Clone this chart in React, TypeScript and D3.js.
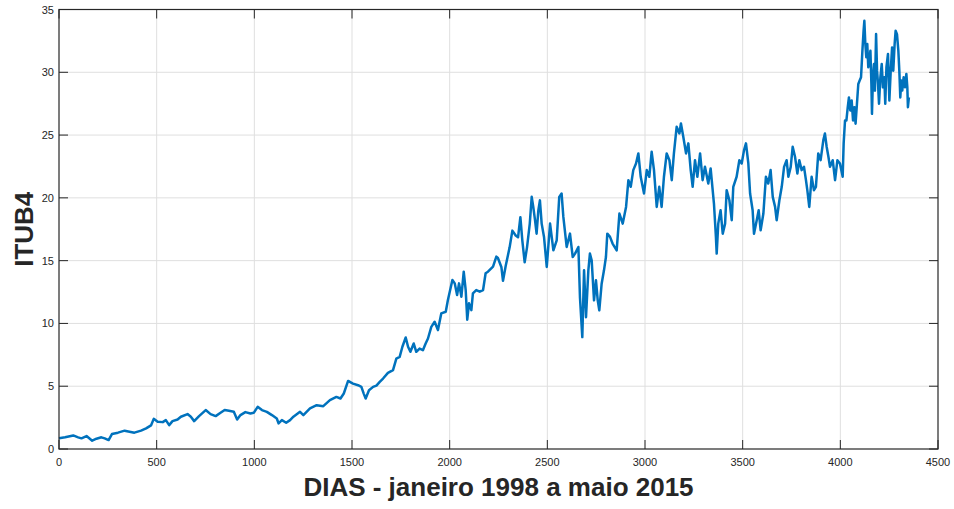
import React from "react";
import * as d3 from "d3";

const W = 954;
const H = 509;
const M = { left: 59, right: 16, top: 9.5, bottom: 60 };

const xTicks = [0, 500, 1000, 1500, 2000, 2500, 3000, 3500, 4000, 4500];
const yTicks = [0, 5, 10, 15, 20, 25, 30, 35];
const xLabel = "DIAS - janeiro 1998 a maio 2015";
const yLabel = "ITUB4";

// trading day index
const days = [
  0, 31, 73, 98, 115, 141, 170, 192, 217, 234, 254, 271, 302, 336, 386, 420, 446, 471, 485, 505,
  531, 547, 564, 581, 607, 624, 658, 675, 692, 717, 751, 776, 802, 827, 848, 870, 895, 912, 929, 954,
  980, 997, 1017, 1039, 1064, 1090, 1115, 1124, 1141, 1163, 1183, 1200, 1234, 1251, 1285, 1319, 1353, 1387, 1420, 1441,
  1458, 1480, 1505, 1531, 1548, 1560, 1570, 1587, 1608, 1625, 1642, 1659, 1684, 1710, 1727, 1744, 1758, 1775, 1787, 1799,
  1816, 1829, 1846, 1863, 1877, 1889, 1906, 1923, 1940, 1957, 1980, 1991, 2014, 2026, 2038, 2048, 2060, 2072, 2082, 2090,
  2099, 2111, 2119, 2136, 2154, 2171, 2184, 2196, 2222, 2239, 2247, 2265, 2273, 2287, 2307, 2321, 2338, 2350, 2362, 2372,
  2384, 2396, 2410, 2420, 2428, 2437, 2445, 2454, 2462, 2471, 2483, 2497, 2514, 2531, 2548, 2561, 2573, 2582, 2599, 2616,
  2630, 2642, 2659, 2667, 2679, 2688, 2698, 2710, 2718, 2727, 2739, 2749, 2758, 2766, 2778, 2790, 2800, 2807, 2821, 2834,
  2855, 2869, 2886, 2903, 2915, 2927, 2940, 2954, 2966, 2978, 2995, 3009, 3022, 3034, 3046, 3060, 3073, 3085, 3097, 3111,
  3125, 3137, 3148, 3162, 3176, 3184, 3196, 3210, 3222, 3234, 3244, 3256, 3268, 3282, 3295, 3307, 3324, 3336, 3353, 3363,
  3367, 3375, 3387, 3398, 3410, 3418, 3432, 3444, 3452, 3469, 3483, 3495, 3507, 3517, 3529, 3538, 3551, 3558, 3572, 3582,
  3592, 3606, 3619, 3631, 3643, 3654, 3666, 3674, 3688, 3700, 3712, 3725, 3734, 3746, 3756, 3768, 3780, 3790, 3802, 3814,
  3824, 3831, 3841, 3853, 3865, 3875, 3887, 3899, 3913, 3921, 3930, 3939, 3947, 3961, 3973, 3985, 3998, 4012, 4017, 4024,
  4031, 4038, 4044, 4051, 4058, 4065, 4072, 4078, 4085, 4092, 4099, 4106, 4113, 4119, 4123, 4128, 4133, 4138, 4143, 4148,
  4154, 4159, 4162, 4167, 4172, 4177, 4183, 4188, 4193, 4198, 4205, 4212, 4218, 4225, 4230, 4236, 4244, 4251, 4258, 4265,
  4271, 4278, 4283, 4290, 4297, 4302, 4307, 4312, 4317, 4324, 4331, 4338, 4343, 4346, 4351,
];

// ITUB4 price
const prices = [
  0.85, 0.93, 1.08, 0.93, 0.85, 1.03, 0.66, 0.82, 0.93, 0.85, 0.71, 1.19, 1.30, 1.46, 1.30, 1.46, 1.64, 1.88, 2.40, 2.17,
  2.14, 2.30, 1.90, 2.22, 2.35, 2.57, 2.78, 2.57, 2.22, 2.62, 3.10, 2.78, 2.62, 2.88, 3.10, 3.04, 2.96, 2.35, 2.70, 2.94,
  2.83, 2.88, 3.36, 3.10, 2.96, 2.70, 2.43, 2.04, 2.30, 2.09, 2.30, 2.57, 2.96, 2.70, 3.23, 3.49, 3.41, 3.89, 4.15, 4.02,
  4.42, 5.42, 5.21, 5.08, 4.95, 4.41, 4.02, 4.68, 4.95, 5.05, 5.35, 5.61, 6.06, 6.28, 7.20, 7.34, 8.14, 8.88, 8.14, 7.74,
  8.40, 7.74, 8.00, 7.87, 8.40, 8.80, 9.73, 10.13, 9.47, 10.80, 10.93, 11.86, 13.46, 13.19, 12.26, 13.19, 12.13, 14.12, 12.66, 10.30,
  11.60, 11.06, 12.40, 12.66, 12.53, 12.66, 14.00, 14.12, 14.52, 15.32, 15.21, 14.47, 13.40, 14.60, 16.06, 17.39, 17.00, 16.86, 18.46, 16.60,
  14.87, 16.06, 17.93, 20.08, 19.28, 18.22, 17.15, 19.00, 19.80, 17.95, 16.89, 14.50, 17.95, 15.82, 16.62, 20.08, 20.35, 18.48, 16.09, 17.15,
  15.29, 15.56, 16.09, 12.10, 8.91, 14.23, 10.50, 14.23, 15.56, 15.03, 11.84, 13.43, 11.84, 11.04, 13.16, 14.23, 15.29, 17.15, 16.89, 16.36,
  15.82, 18.75, 17.95, 19.28, 21.41, 20.88, 22.21, 22.74, 23.54, 21.68, 20.35, 22.21, 21.68, 23.67, 22.21, 19.28, 20.88, 19.28, 21.68, 23.54,
  23.00, 21.41, 23.54, 25.66, 25.13, 25.93, 24.87, 23.54, 24.34, 22.21, 20.88, 23.00, 21.68, 23.54, 21.41, 22.47, 21.14, 22.34, 19.55, 16.89,
  15.56, 17.95, 19.01, 17.15, 17.95, 20.61, 19.81, 18.22, 20.88, 21.68, 23.00, 22.74, 23.80, 24.34, 22.74, 20.35, 19.01, 17.15, 18.22, 19.01,
  17.42, 18.75, 21.68, 21.14, 22.21, 20.08, 19.28, 18.22, 19.81, 20.88, 22.47, 23.00, 21.68, 22.47, 24.07, 23.27, 21.94, 23.00, 22.21, 22.47,
  21.41, 20.61, 19.28, 21.68, 20.61, 20.88, 23.54, 23.00, 24.60, 25.13, 24.07, 23.27, 22.47, 23.00, 21.41, 23.00, 22.74, 21.68, 24.34, 26.16,
  26.16, 27.22, 28.00, 26.96, 27.76, 26.16, 27.22, 25.90, 27.49, 29.07, 29.34, 29.60, 31.72, 33.30, 34.10, 32.25, 31.19, 32.25, 30.40, 30.93,
  31.72, 29.07, 26.69, 29.60, 30.66, 28.54, 33.04, 30.13, 29.07, 27.49, 29.60, 30.66, 28.80, 29.60, 27.49, 30.40, 31.46, 27.75, 30.13, 31.98,
  30.13, 32.25, 33.30, 33.04, 31.72, 30.13, 28.00, 29.34, 28.54, 29.60, 28.80, 29.87, 28.80, 27.22, 28.00,
];

const AXIS = "#262626";
const GRID = "#dfdfdf";
const LINE = "#0072BD";
const FONT = "Arial, 'Liberation Sans', Helvetica, sans-serif";

export default function App() {
  const x = d3.scaleLinear().domain([0, 4500]).range([M.left, W - M.right]);
  const y = d3.scaleLinear().domain([0, 35]).range([H - M.bottom, M.top]);
  const data = days.map((d, i) => [d, prices[i]] as [number, number]);
  const line = d3
    .line<[number, number]>()
    .x((d) => x(d[0]))
    .y((d) => y(d[1]))
    .curve(d3.curveLinear);

  const x0 = M.left;
  const x1 = W - M.right;
  const y0 = H - M.bottom;
  const y1 = M.top;
  const TL = 9;

  return (
    <svg
      width={W}
      height={H}
      style={{ position: "absolute", left: 0, top: 0, background: "#fff" }}
      fontFamily={FONT}
    >
      <rect x={0} y={0} width={W} height={H} fill="#fff" />
      {/* grid */}
      {xTicks.slice(1, -1).map((t) => (
        <line key={"gx" + t} x1={x(t)} x2={x(t)} y1={y0} y2={y1} stroke={GRID} strokeWidth={1} />
      ))}
      {yTicks.slice(1, -1).map((t) => (
        <line key={"gy" + t} x1={x0} x2={x1} y1={y(t)} y2={y(t)} stroke={GRID} strokeWidth={1} />
      ))}
      {/* data line */}
      <path d={line(data) || ""} fill="none" stroke={LINE} strokeWidth={2.5} strokeLinejoin="round" />
      {/* ticks */}
      {xTicks.map((t) => (
        <g key={"tx" + t}>
          <line x1={x(t)} x2={x(t)} y1={y0} y2={y0 - TL} stroke={AXIS} strokeWidth={1} />
          <line x1={x(t)} x2={x(t)} y1={y1} y2={y1 + TL} stroke={AXIS} strokeWidth={1} />
          <text x={x(t)} y={y0 + 17} textAnchor="middle" fontSize={11} fill={AXIS}>
            {t}
          </text>
        </g>
      ))}
      {yTicks.map((t) => (
        <g key={"ty" + t}>
          <line x1={x0} x2={x0 + TL} y1={y(t)} y2={y(t)} stroke={AXIS} strokeWidth={1} />
          <line x1={x1} x2={x1 - TL} y1={y(t)} y2={y(t)} stroke={AXIS} strokeWidth={1} />
          <text x={x0 - 5} y={y(t) + 4} textAnchor="end" fontSize={11} fill={AXIS}>
            {t}
          </text>
        </g>
      ))}
      {/* box */}
      <rect x={x0} y={y1} width={x1 - x0} height={y0 - y1} fill="none" stroke={AXIS} strokeWidth={1.2} />
      {/* labels */}
      <text x={(x0 + x1) / 2} y={496} textAnchor="middle" fontSize={26} fontWeight="bold" fill={AXIS}>
        {xLabel}
      </text>
      <text
        transform={`translate(32.5,${(y0 + y1) / 2}) rotate(-90)`}
        textAnchor="middle"
        fontSize={26}
        fontWeight="bold"
        fill={AXIS}
      >
        {yLabel}
      </text>
    </svg>
  );
}
